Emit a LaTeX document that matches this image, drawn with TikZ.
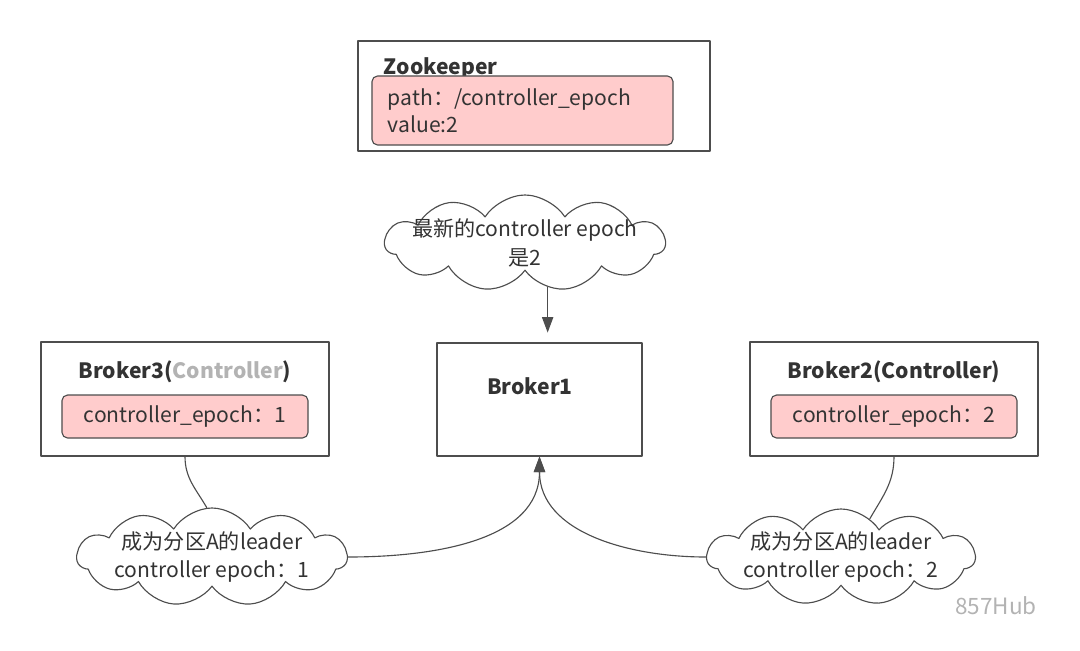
\documentclass[tikz,border=0pt]{standalone}
\usepackage{fontspec}
\setmainfont{Noto Sans CJK SC}
\usetikzlibrary{arrows.meta,shapes.symbols}
\definecolor{ink}{HTML}{333333}
\definecolor{edge}{HTML}{4D4D4D}
\definecolor{pinkfill}{HTML}{FFCCCC}
\definecolor{pale}{HTML}{B3B3B3}
\tikzset{
	hostbox/.style={draw=edge, line width=0.8pt, fill=white, inner sep=0pt},
	epochbox/.style={draw=edge, line width=0.8pt, fill=pinkfill, rounded corners=4pt, inner sep=0pt},
	title/.style={font=\fontsize{15}{18}\selectfont\bfseries, text=ink},
	note/.style={cloud, cloud puffs=11, cloud puff arc=115, cloud ignores aspect, draw=edge, line width=0.8pt,
		fill=white, align=center, inner xsep=-0.55cm, inner ysep=-0.22cm, font=\fontsize{15}{20}\selectfont, text=ink},
}
\begin{document}
\begin{tikzpicture}[
	x=0.025cm,
	y=-0.025cm,
	line join=round,
	line cap=round,
	>={Triangle[length=11pt,width=8pt]},
	]
\useasboundingbox[fill=white] (0,0) rectangle (1080,651);
% zookeeper
\node[hostbox, minimum width=8.8cm, minimum height=2.75cm] (zk) at (534,96) {};
\node[title, anchor=west] (zktitle) at (379,68) {Zookeeper};
\node[epochbox, minimum width=7.525cm, minimum height=1.725cm, text width=6.725cm, align=left,
	font=\fontsize{15}{19.5}\selectfont, text=ink] (zkpath) at (522.5,110.5)
	{path：/controller\_epoch\\value:2};
% brokers
\node[hostbox, minimum width=7.2cm, minimum height=2.85cm] (b3) at (185,399) {};
\node[hostbox, minimum width=5.125cm, minimum height=2.825cm] (b1) at (539.5,399.5) {};
\node[hostbox, minimum width=7.2cm, minimum height=2.85cm] (b2) at (894,399) {};
\node[title] (b3title) at (185,372) {Broker3({\color{pale}Controller})};
\node[title] (b1title) at (530,386) {Broker1};
\node[title] (b2title) at (894,372) {Broker2(Controller)};
\foreach \b/\v in {b3/1, b2/2}
	\node[epochbox, minimum width=6.15cm, minimum height=1.075cm, font=\fontsize{15}{18}\selectfont,
		text=ink] (\b epoch) at ([yshift=-0.4375cm]\b.center) {controller\_epoch：\v};
% notes
\node[note, minimum width=7cm, minimum height=2.4cm] (ctop) at (525,243) {最新的controller epoch\\是2};
\node[note, minimum width=6.75cm, minimum height=2.45cm] (c3) at (212,557) {成为分区A的leader\\controller epoch：1};
\node[note, minimum width=6.7cm, minimum height=2.4cm] (c2) at (841,557) {成为分区A的leader\\controller epoch：2};
% connectors
\draw[->, draw=edge, line width=0.8pt, shorten >=7pt] (ctop.-63) -- (ctop.-63 |- b1.north);
\draw[draw=edge, line width=0.8pt] (b3.south) to[out=-90, in=120] (c3.96);
\draw[draw=edge, line width=0.8pt] (b2.south) to[out=-90, in=60] (c2.53);
\draw[->, draw=edge, line width=0.8pt] (c3.east) to[out=0, in=-90] (b1.south);
\draw[->, draw=edge, line width=0.8pt] (c2.west) to[out=180, in=-90] (b1.south);
% watermark
\node[text=pale, font=\fontsize{16}{19}\selectfont] (mark) at (996,606) {857Hub};
\end{tikzpicture}
\end{document}
